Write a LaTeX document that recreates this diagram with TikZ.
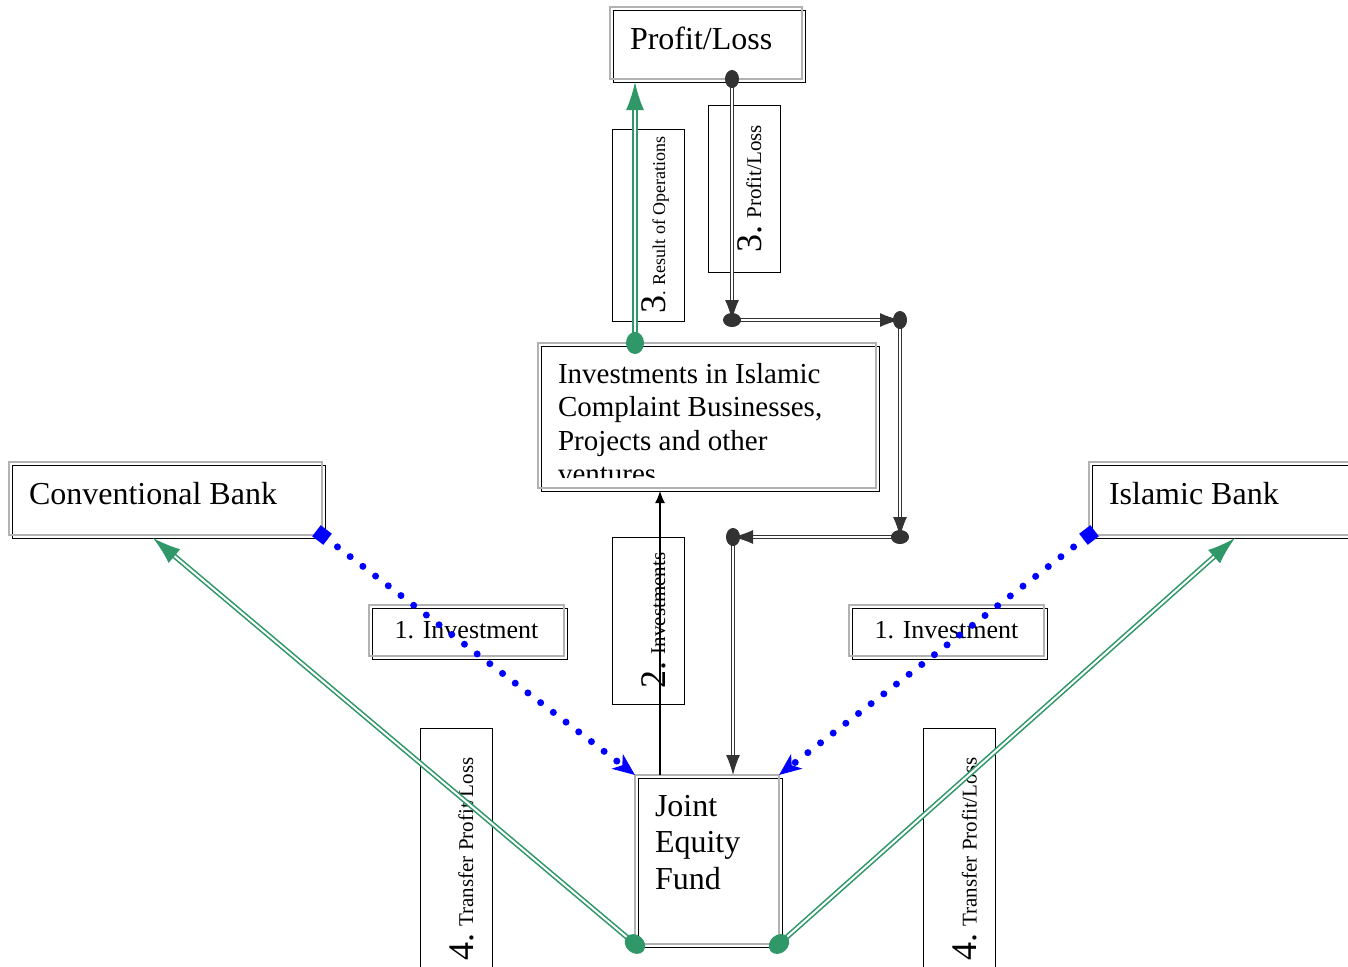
\documentclass[tikz,border=0pt]{standalone}
\usepackage{fontspec}
\setmainfont{Liberation Serif}
\usetikzlibrary{arrows.meta}
\definecolor{flowgreen}{RGB}{48,152,104}
\newcommand{\stepnum}[1]{{\fontsize{18}{20}\selectfont #1}}
\newcommand{\boxfont}{\fontsize{16}{18.25}\selectfont}

\begin{document}
\begin{tikzpicture}[x=0.5pt, y=-0.5pt, font=\boxfont,
  dbox/.style={draw=gray!60, line width=0.9pt, outer sep=0pt, inner sep=0pt,
    preaction={draw=black, line width=0.5pt, transform canvas={shift={(1.5pt,-1.5pt)}}}},
  boxtext/.style 2 args={path picture={
    \clip ([yshift=5.5pt]path picture bounding box.south west) rectangle (path picture bounding box.north east);
    \node[draw=none, minimum width=0pt, minimum height=0pt, anchor=north west, align=left,
          inner xsep=10pt, inner ysep=10pt, font=#1] at (path picture bounding box.north west) {#2};}},
  lbox/.style={draw, line width=0.5pt, rotate=90, inner sep=0pt, outer sep=0pt,
    minimum height=36pt, text height=17pt, text depth=0pt, font=\fontsize{10.5}{12}\selectfont},
  gflow/.style={draw=flowgreen, double=white, double distance=1pt, line width=0.8pt, shorten <=-5.5pt,
    {Ellipse[length=11pt,width=9pt]}-{Latex[length=14pt,width=9pt]}},
  kflow/.style={draw=black!80, double=white, double distance=0.9pt, line width=0.55pt, shorten <=-4.5pt,
    {Ellipse[length=9pt,width=7pt]}-{Latex[length=10pt,width=7pt]}},
  bflow/.style={draw=blue, line width=3.5pt, line cap=round, dash pattern=on 0pt off 8pt, shorten <=-3.5pt,
    {Square[length=7pt,width=7pt]}-{Stealth[length=11pt,width=9pt,inset=3pt]}}]
  \clip (0,0) rectangle (1348,966);

  % boxes
  \node[dbox, boxtext={\boxfont}{Profit/Loss}, anchor=north west, minimum width=96pt, minimum height=36pt] (pl) at (610,7) {};
  \node[dbox, boxtext={\fontsize{14.5}{16.75}\selectfont}{Investments in Islamic\\Complaint Businesses,\\Projects and other\\ventures},
        anchor=north west, minimum width=169pt, minimum height=72.5pt] (inv) at (538,343) {};
  \node[dbox, boxtext={\boxfont}{Conventional Bank}, anchor=north west, minimum width=156.5pt, minimum height=36.5pt] (cb) at (9,462) {};
  \node[dbox, boxtext={\boxfont}{Islamic Bank}, anchor=north west, minimum width=156.5pt, minimum height=36.5pt] (ib) at (1089,462) {};
  \node[dbox, boxtext={\boxfont}{Joint\\Equity\\Fund}, anchor=north west, minimum width=72pt, minimum height=84.5pt] (jef) at (635,775) {};
  \node[dbox, font=\fontsize{13}{15}\selectfont, anchor=north west, minimum width=97.5pt, minimum height=25.5pt] (invl) at (369,605) {1. Investment};
  \node[dbox, font=\fontsize{13}{15}\selectfont, anchor=north west, minimum width=97.5pt, minimum height=25.5pt] (invr) at (849,605) {1. Investment};

  % step labels
  \node[lbox, minimum width=96pt, font=\fontsize{9}{10}\selectfont] (lres) at (648,225) {\stepnum{3}. Result of Operations};
  \node[lbox, minimum width=83.5pt] (lpl) at (744,188.5) {\stepnum{3.} Profit/Loss};
  \node[lbox, minimum width=83.5pt] (linv) at (648,620.5) {\stepnum{2.} Investments};
  \node[lbox, minimum width=131pt] (ltl) at (456,859) {\stepnum{4.} Transfer Profit/Loss};
  \node[lbox, minimum width=131pt] (ltr) at (959.5,859) {\stepnum{4.} Transfer Profit/Loss};

  % result of operations
  \draw[gflow] ([xshift=48.5pt]inv.north west) -- ([xshift=12.5pt,yshift=-1.5pt]pl.south west);

  % profit/loss back to the fund
  \coordinate (plout) at ([xshift=61pt]pl.south west);
  \coordinate (c1) at (732,320);
  \coordinate (c2) at (900,320);
  \coordinate (c3) at (900,537);
  \coordinate (c4) at (733,537);
  \coordinate (jefin) at ([xshift=49pt]jef.north west);
  \foreach \a/\b in {plout/c1, c1/c2, c2/c3, c3/c4, c4/jefin}
    \draw[kflow] (\a) -- (\b);

  % investments
  \draw[-{Latex[length=6pt,width=5pt]}, line width=0.6pt] ([xshift=12.5pt]jef.north west) -- ([xshift=61pt,yshift=-1.5pt]inv.south west);
  \draw[bflow] (cb.south east) -- (jef.north west);
  \draw[bflow] (ib.south west) -- (jef.north east);

  % transfer profit/loss
  \draw[gflow] (jef.south west) -- ([xshift=72pt,yshift=-1.5pt]cb.south west);
  \draw[gflow] (jef.south east) -- ([xshift=73pt,yshift=-1.5pt]ib.south west);
\end{tikzpicture}
\end{document}
